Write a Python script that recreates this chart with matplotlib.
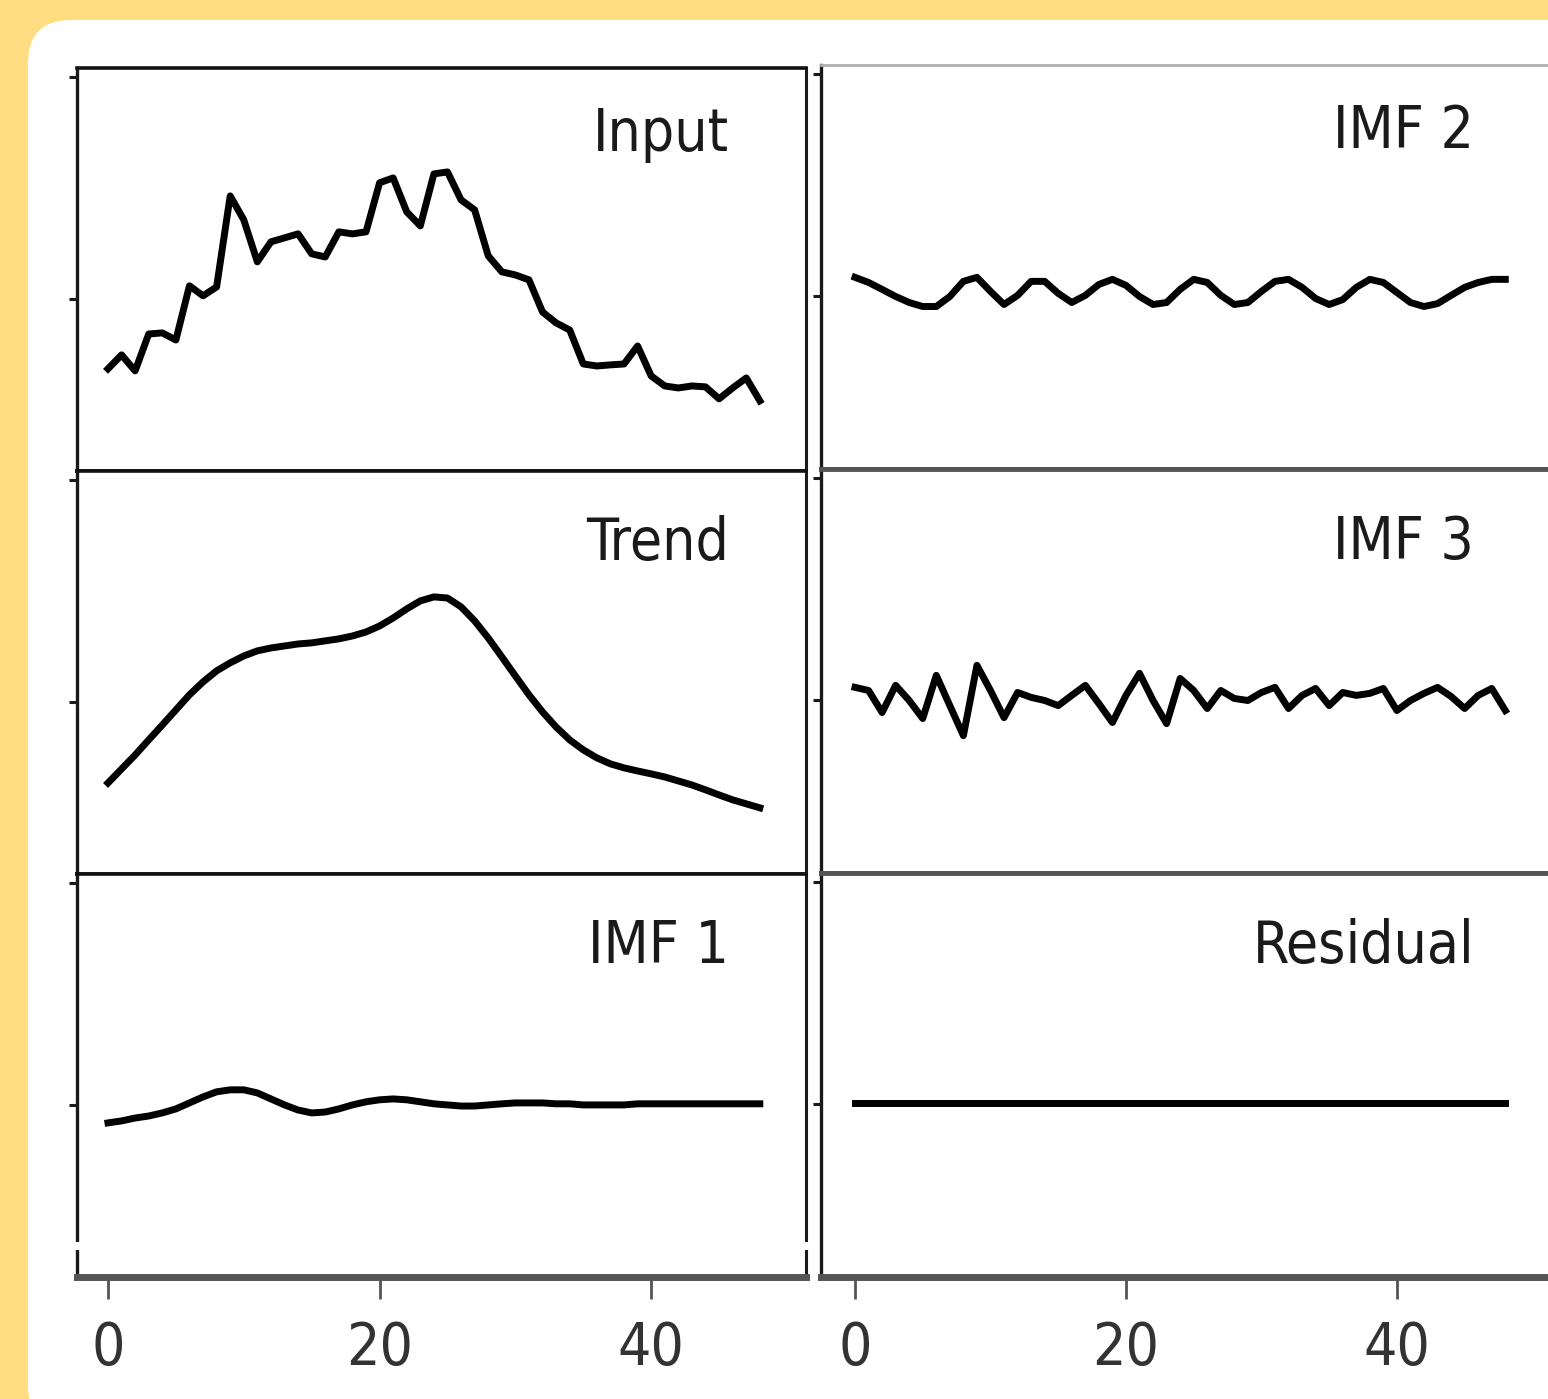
import matplotlib
matplotlib.use("Agg")
import matplotlib.pyplot as plt
from matplotlib.patches import FancyBboxPatch, Rectangle
from matplotlib.transforms import blended_transform_factory, IdentityTransform
from matplotlib import font_manager

# values (normalised units, zero at the y tick)
steps = list(range(49))

signal_input = [
    -0.315, -0.252, -0.324, -0.158, -0.153, -0.185, 0.059, 0.014, 0.054, 0.464,
    0.356, 0.167, 0.257, 0.275, 0.293, 0.203, 0.189, 0.302, 0.293, 0.302,
    0.523, 0.545, 0.392, 0.329, 0.563, 0.572, 0.446, 0.401, 0.194, 0.122,
    0.108, 0.086, -0.059, -0.108, -0.140, -0.293, -0.302, -0.297, -0.293, -0.212,
    -0.347, -0.392, -0.401, -0.392, -0.396, -0.450, -0.401, -0.356, -0.459,
]

trend = [
    -0.365, -0.302, -0.239, -0.171, -0.104, -0.036, 0.032, 0.090, 0.140, 0.176,
    0.207, 0.230, 0.243, 0.252, 0.261, 0.266, 0.275, 0.284, 0.297, 0.315,
    0.342, 0.378, 0.419, 0.455, 0.473, 0.468, 0.428, 0.365, 0.288, 0.203,
    0.117, 0.032, -0.045, -0.113, -0.171, -0.216, -0.252, -0.279, -0.297, -0.311,
    -0.324, -0.338, -0.356, -0.374, -0.396, -0.419, -0.441, -0.459, -0.477,
]

imf1 = [
    -0.081, -0.072, -0.059, -0.050, -0.036, -0.018, 0.009, 0.036, 0.059, 0.068,
    0.068, 0.054, 0.027, 0.000, -0.023, -0.036, -0.032, -0.018, 0.000, 0.014,
    0.023, 0.027, 0.023, 0.014, 0.005, 0.000, -0.005, -0.005, 0.000, 0.005,
    0.009, 0.009, 0.009, 0.005, 0.005, 0.000, 0.000, 0.000, 0.000, 0.005,
    0.005, 0.005, 0.005, 0.005, 0.005, 0.005, 0.005, 0.005, 0.005,
]

imf2 = [
    0.086, 0.063, 0.032, 0.000, -0.027, -0.045, -0.045, 0.000, 0.068, 0.086,
    0.023, -0.036, 0.005, 0.068, 0.068, 0.014, -0.027, 0.005, 0.054, 0.077,
    0.050, 0.000, -0.036, -0.027, 0.032, 0.077, 0.063, 0.005, -0.036, -0.027,
    0.023, 0.068, 0.077, 0.041, -0.009, -0.036, -0.014, 0.041, 0.077, 0.063,
    0.018, -0.027, -0.045, -0.032, 0.005, 0.041, 0.063, 0.077, 0.077,
]

imf3 = [
    0.059, 0.045, -0.054, 0.068, 0.000, -0.081, 0.113, -0.023, -0.158, 0.158,
    0.045, -0.077, 0.036, 0.014, 0.000, -0.023, 0.023, 0.068, -0.014, -0.099,
    0.023, 0.122, 0.000, -0.104, 0.099, 0.045, -0.036, 0.045, 0.009, 0.000,
    0.036, 0.059, -0.036, 0.023, 0.054, -0.023, 0.036, 0.023, 0.032, 0.054,
    -0.045, 0.000, 0.032, 0.059, 0.018, -0.036, 0.023, 0.054, -0.045,
]

residual = [
    0.005, 0.005, 0.005, 0.005, 0.005, 0.005, 0.005, 0.005, 0.005, 0.005,
    0.005, 0.005, 0.005, 0.005, 0.005, 0.005, 0.005, 0.005, 0.005, 0.005,
    0.005, 0.005, 0.005, 0.005, 0.005, 0.005, 0.005, 0.005, 0.005, 0.005,
    0.005, 0.005, 0.005, 0.005, 0.005, 0.005, 0.005, 0.005, 0.005, 0.005,
    0.005, 0.005, 0.005, 0.005, 0.005, 0.005, 0.005, 0.005, 0.005,
]

left_names = ["Input", "Trend", "IMF 1"]
left_series = [signal_input, trend, imf1]
right_names = ["IMF 2", "IMF 3", "Residual"]
right_series = [imf2, imf3, residual]
xticks = [0, 20, 40]

W, H = 1548, 1399

# condensed DejaVu looks closer to the squeezed text of the screenshot
has_cond = any(f.name == "DejaVu Sans" and f.stretch == "condensed"
               for f in font_manager.fontManager.ttflist)
plt.rcParams["font.family"] = "DejaVu Sans"
if has_cond:
    plt.rcParams["font.stretch"] = "condensed"

fig = plt.figure(figsize=(W / 100, H / 100), dpi=100)
fig.patch.set_facecolor("#FFDD80")

# white card with rounded corners, running off the right and bottom edges
card = FancyBboxPatch((28, -30), 1700, H - 20 + 30,
                      boxstyle="round,pad=0,rounding_size=43",
                      transform=IdentityTransform(), facecolor="white",
                      edgecolor="none", zorder=-1)
fig.patches.append(card)


def px_rect(left, top, right, bottom):
    return [left / W, 1 - bottom / H, (right - left) / W, (bottom - top) / H]


def draw_column(names, series, left, right, rows, xlim, is_right):
    for r, (name, vals) in enumerate(zip(names, series)):
        top, bottom = rows[r], rows[r + 1]
        ax = fig.add_axes(px_rect(left, top, right, bottom))
        ax.plot(steps, vals, color="black", lw=5.0, solid_joinstyle="round")
        ax.set_xlim(*xlim)
        ax.set_ylim(-0.775, 1.04)
        ax.set_yticks([0, 1])
        ax.set_yticklabels([])
        ax.set_xticks(xticks)
        ax.tick_params(axis="y", length=6, width=2.2, color="#1a1a1a")
        last = r == len(names) - 1
        if last:
            ax.tick_params(axis="x", length=16, width=2, color="#555555",
                           pad=15, labelsize=42, labelcolor="#333333")
        else:
            ax.tick_params(axis="x", bottom=False, labelbottom=False)

        trans = blended_transform_factory(ax.transData, ax.transAxes)
        ax.text(45.7, 0.794 if r == 0 else 0.778, name, transform=trans,
                ha="right", va="baseline", fontsize=42, color="#1a1a1a")

        # spines the way the screenshot shows them
        ax.spines["left"].set(color="#1a1a1a", lw=2.4)
        if is_right:
            ax.spines["right"].set_visible(False)
            ax.spines["top"].set(color="#b0b0b0" if r == 0 else "#555555",
                                 lw=2.0 if r == 0 else 3.5)
            ax.spines["bottom"].set(color="#555555", lw=5 if last else 3.5)
        else:
            ax.spines["right"].set(color="#1a1a1a", lw=2.2)
            ax.spines["top"].set(color="#111111", lw=2.6)
            ax.spines["bottom"].set(color="#555555" if last else "#111111",
                                    lw=5 if last else 2.6)


draw_column(left_names, left_series, 77, 806, [68, 471, 874, 1277],
            (-2.28, 51.4), False)
draw_column(right_names, right_series, 821, 1550, [65, 469, 873, 1277],
            (-2.51, 51.3), True)

# small gaps in the vertical spines near the bottom, as in the screenshot
for gx in (72, 802):
    fig.patches.append(Rectangle((gx, H - 1250), 8, 8,
                                 transform=IdentityTransform(),
                                 facecolor="white", edgecolor="none",
                                 zorder=5))

fig.savefig("out.png", dpi=100, facecolor=fig.get_facecolor())
